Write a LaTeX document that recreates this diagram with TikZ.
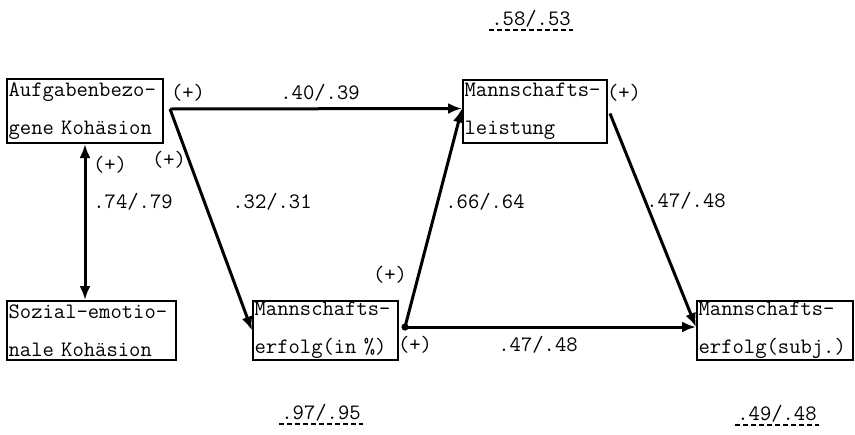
\documentclass[tikz,border=0pt]{standalone}
\usepackage{tikz}
\usetikzlibrary{arrows.meta}
\tikzset{>={Latex[length=7pt,width=5.5pt]}}
\tikzset{
  var/.style={draw, line width=1pt, inner xsep=0.8pt, inner ysep=0pt, align=left,
    font=\ttfamily\fontsize{11}{19}\selectfont},
  path/.style={->, line width=1.5pt},
  coef/.style={inner sep=0pt, font=\ttfamily\fontsize{11}{13}\selectfont},
  rsq/.style={coef, inner sep=1pt},
  under/.style={line width=0.8pt, dash pattern=on 2.5pt off 1.5pt},
}

\begin{document}
\begin{tikzpicture}[x=0.5pt,y=-0.5pt]

  \useasboundingbox (0,0) rectangle (855,434);

  % Variables
  \node[var, text width=76.4pt, minimum height=32pt]   (aufg)   at (85,111)      {Aufgabenbezo-\\gene Kohäsion};
  \node[var, text width=82.9pt, minimum height=29.5pt] (sozial) at (91.5,330.5)  {Sozial-emotio-\\nale Kohäsion};
  \node[var, text width=70.9pt, minimum height=29.5pt] (erfolg) at (325.5,330.5) {Mannschafts-\\erfolg(in \%)};
  \node[var, text width=70.4pt, minimum height=31.5pt] (leist)  at (535,111.5)   {Mannschafts-\\leistung};
  \node[var, text width=76.4pt, minimum height=29.5pt] (subj)   at (775,330.5)   {Mannschafts-\\erfolg(subj.)};

  % Branch points
  \coordinate (split) at (170,109);
  \coordinate (knot)  at (405,327);

  % Edges
  \draw[path] (split) -- ([yshift=1.5pt]leist.west);
  \draw[path] (split) -- (erfolg.west);
  \draw[path, <->] (aufg.south) -- (aufg.south |- sozial.north);
  \draw[path] (knot) -- ([yshift=1.5pt]leist.west);
  \draw[path] (knot) -- (knot -| subj.west);
  \draw[path] ([xshift=1pt,yshift=-1pt]leist.east) -- (knot -| subj.west);
  \fill (knot) circle (1.8pt);

  % Coefficients
  \node[coef] (p1) at (188,93)  {(+)};
  \node[coef] (c1) at (320,93)  {.40/.39};
  \node[coef] (p2) at (169,160) {(+)};
  \node[coef] (c2) at (272,202) {.32/.31};
  \node[coef] (p3) at (110,165) {(+)};
  \node[coef] (c3) at (133,202) {.74/.79};
  \node[coef] (p4) at (624,93)  {(+)};
  \node[coef] (c4) at (686,201) {.47/.48};
  \node[coef] (c5) at (485,202) {.66/.64};
  \node[coef] (p5) at (390,275) {(+)};
  \node[coef] (p6) at (415,345) {(+)};
  \node[coef] (c6) at (538,345) {.47/.48};

  % Explained variance
  \node[rsq] (r1) at (531,19)  {.58/.53};
  \node[rsq] (r2) at (321,413) {.97/.95};
  \node[rsq] (r3) at (777,414) {.49/.48};
  \foreach \r in {r1,r2,r3}
    \draw[under] (\r.south west) -- (\r.south east);

\end{tikzpicture}
\end{document}
